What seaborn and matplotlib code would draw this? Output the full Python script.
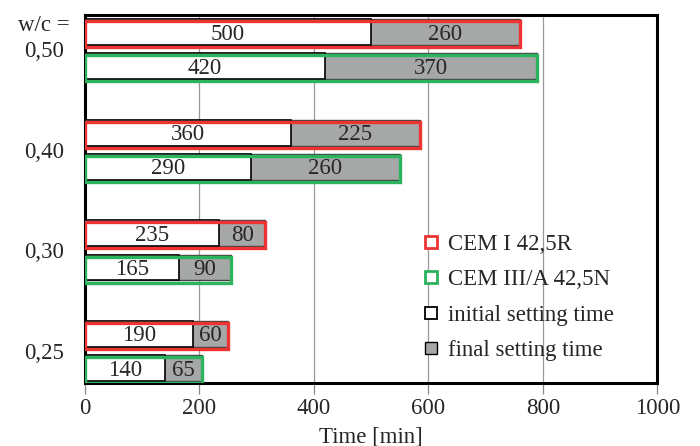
import numpy as np
import pandas as pd
import matplotlib
matplotlib.use('Agg')
import matplotlib.pyplot as plt
import seaborn as sns
from matplotlib.lines import Line2D

# data
wc_labels = ['0,50', '0,40', '0,30', '0,25']
cements = ['CEM I 42,5R', 'CEM III/A 42,5N']
initial_cem1 = [500, 360, 235, 190]
final_cem1 = [260, 225, 80, 60]
initial_cem3 = [420, 290, 165, 140]
final_cem3 = [370, 260, 90, 65]

RED = '#ee3333'
GREEN = '#2db35d'
GREY = '#a6a8a8'
FS = 16.5

df = pd.DataFrame({
    'wc': wc_labels * 2,
    'cement': [cements[0]] * 4 + [cements[1]] * 4,
    'initial': initial_cem1 + initial_cem3,
    'final': final_cem1 + final_cem3,
})
df['total'] = df['initial'] + df['final']

sns.set_style('white')
plt.rcParams['font.family'] = ['Liberation Serif', 'DejaVu Serif']

fig = plt.figure(figsize=(7, 4.46), dpi=100)
ax = fig.add_axes([0.121, 0.141, 0.818, 0.825])

common = dict(data=df, y='wc', hue='cement', order=wc_labels, hue_order=cements,
              orient='h', width=0.68, gap=0.24, legend=False, ax=ax, zorder=3)

# grey bars = full length (initial + final)
sns.barplot(x='total', palette={c: GREY for c in cements},
            edgecolor='#444444', linewidth=1.0, **common)
# white bars = initial setting time
sns.barplot(x='initial', palette={c: 'white' for c in cements},
            edgecolor='black', linewidth=1.2, **common)
# coloured outline per cement
n_before = len(ax.containers)
sns.barplot(x='total', palette={cements[0]: RED, cements[1]: GREEN},
            fill=False, linewidth=2.4, **common)
for cont in ax.containers[n_before:]:
    for p in cont:
        p.set_y(p.get_y() + 0.02)
        p.set_zorder(4)

# value labels
offsets = {cements[0]: -0.17, cements[1]: 0.17}
for _, row in df.iterrows():
    yc = wc_labels.index(row['wc']) + offsets[row['cement']] + 0.02
    ax.text(row['initial'] / 2, yc, str(row['initial']), ha='center', va='center',
            fontsize=FS, zorder=5)
    ax.text(row['initial'] + row['final'] / 2, yc, str(row['final']),
            ha='center', va='center', fontsize=FS, zorder=5)

ax.set_xlim(0, 1000)
ax.set_ylim(3.32, -0.34)
ax.set_xticks([0, 200, 400, 600, 800, 1000])
ax.grid(axis='x', color='#999999', linewidth=0.9, zorder=0)
ax.set_axisbelow(True)
ax.tick_params(axis='x', direction='out', length=8, color='#888888', width=0.9,
               labelsize=FS, pad=3)
ax.tick_params(axis='y', length=0, labelsize=FS, pad=15)
ax.xaxis.set_ticks_position('bottom')
ax.set_ylabel('')
ax.set_xlabel('Time [min]', fontsize=FS, labelpad=5)
for s in ax.spines.values():
    s.set_color('black')
    s.set_linewidth(2.2)
    s.set_visible(True)

fig.text(0.025, 0.93, 'w/c =', fontsize=FS)

handles = [
    Line2D([], [], marker='s', linestyle='none', markersize=9, markerfacecolor='white',
           markeredgecolor=RED, markeredgewidth=2.0),
    Line2D([], [], marker='s', linestyle='none', markersize=9, markerfacecolor='white',
           markeredgecolor=GREEN, markeredgewidth=2.0),
    Line2D([], [], marker='s', linestyle='none', markersize=9, markerfacecolor='white',
           markeredgecolor='black', markeredgewidth=1.3),
    Line2D([], [], marker='s', linestyle='none', markersize=9, markerfacecolor=GREY,
           markeredgecolor='black', markeredgewidth=1.0),
]
ax.legend(handles, cements + ['initial setting time', 'final setting time'],
          loc='upper left', bbox_to_anchor=(0.59, 0.405), frameon=False,
          fontsize=FS, handlelength=0.7, handletextpad=0.4, labelspacing=0.62,
          borderpad=0, borderaxespad=0)

fig.savefig('out.png', dpi=100)
